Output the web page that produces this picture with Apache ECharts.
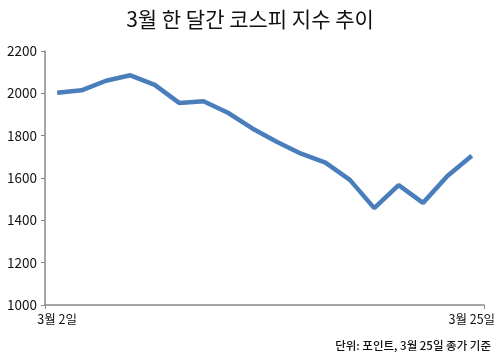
<!DOCTYPE html>
<html><head><meta charset="utf-8">
<script src="https://cdn.jsdelivr.net/npm/echarts@6/dist/echarts.min.js"></script>
<style>html,body{margin:0;padding:0;background:#fff}#c{width:500px;height:355px}</style>
</head><body><div id="c"></div>
<script>
const titleText = '3월 한 달간 코스피 지수 추이';
const noteText = '단위: 포인트, 3월 25일 종가 기준';
const categories = ['3월 2일','3월 3일','3월 4일','3월 5일','3월 6일','3월 9일','3월 10일','3월 11일','3월 12일','3월 13일','3월 16일','3월 17일','3월 18일','3월 19일','3월 20일','3월 23일','3월 24일','3월 25일'];
const kospi = [2002.51,2014.15,2059.33,2085.26,2040.22,1954.77,1962.93,1908.27,1834.33,1771.44,1714.86,1672.44,1591.20,1457.64,1566.15,1482.46,1609.97,1704.76];
const yMin = 1000, yMax = 2200, yStep = 200;
const font = '"Noto Sans CJK KR", "Noto Sans", sans-serif';
const chart = echarts.init(document.getElementById('c'), null, {renderer:'canvas'});
const lastIdx = categories.length - 1;
chart.setOption({
  animation:false,
  title:[{text:titleText,left:'center',top:4,textStyle:{fontFamily:font,fontSize:21,fontWeight:'normal',color:'#111'}},
         {text:noteText,right:4,top:335,textStyle:{fontFamily:font,fontSize:11.5,fontWeight:500,color:'#111'}}],
  grid:{left:45,right:16,top:51,bottom:50,containLabel:false},
  xAxis:{type:'category',data:categories,boundaryGap:true,
    axisLine:{lineStyle:{color:'#888',width:1.5}},
    axisTick:{show:true,interval:function(i){return i===0;},length:4,lineStyle:{color:'#888'}},
    axisLabel:{interval:function(i){return i===0||i===lastIdx;},fontFamily:font,fontSize:12.5,color:'#111',margin:8}},
  yAxis:{type:'value',min:yMin,max:yMax,interval:yStep,
    splitLine:{show:false},
    axisLine:{show:true,lineStyle:{color:'#888',width:1.5}},
    axisTick:{show:true,length:4,lineStyle:{color:'#888'}},
    axisLabel:{fontFamily:font,fontSize:13.5,color:'#111',margin:8,formatter:function(v){return String(v);}}},
  series:[{type:'line',data:kospi,symbol:'none',lineStyle:{color:'#4a7ebb',width:4.5},itemStyle:{color:'#4a7ebb'}}]
});
</script></body></html>
